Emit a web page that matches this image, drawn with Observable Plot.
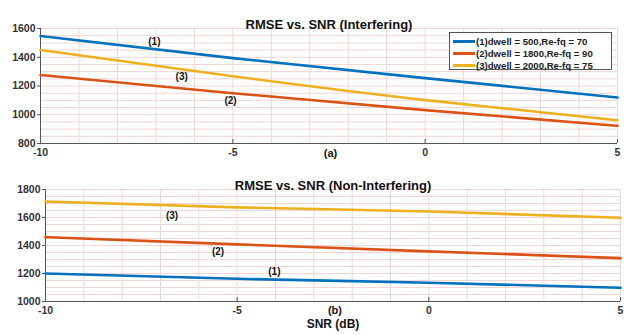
<!DOCTYPE html>
<html>
<head>
<meta charset="utf-8">
<script src="https://cdn.jsdelivr.net/npm/d3@7"></script>
<script src="https://cdn.jsdelivr.net/npm/@observablehq/plot@0.6"></script>
<style>
  html, body { margin: 0; padding: 0; background: #fff; }
  #wrap { position: relative; width: 624px; height: 335px; overflow: hidden; font-family: "Liberation Sans", Arial, sans-serif; }
  #wrap svg { position: absolute; left: 0; }
  #legend { position: absolute; left: 449px; top: 32px; width: 163px; height: 38px; border: 1px solid #555; background: #fff;
            font-weight: bold; font-size: 9.6px; color: #222; box-sizing: border-box; padding-top: 2px; }
  #legend .row { display: flex; align-items: center; height: 12px; white-space: nowrap; }
  #legend .sw { display: inline-block; width: 22px; height: 3px; margin: 0 1px 0 3px; }
</style>
</head>
<body>
<div id="wrap"></div>
<script>
// ---- data ----
const snr = [-10, -5, 0, 5];
const seriesNames = ["(1)dwell = 500,Re-fq = 70", "(2)dwell = 1800,Re-fq = 90", "(3)dwell = 2000,Re-fq = 75"];
const colors = ["#0072BD", "#D95319", "#EDB120"];
// Interfering (a)
const int1 = [1548, 1394, 1255, 1120];
const int2 = [1276, 1150, 1032, 923];
const int3 = [1450, 1268, 1102, 962];
// Non-interfering (b)
const non1 = [1200, 1162, 1134, 1098];
const non2 = [1460, 1408, 1358, 1310];
const non3 = [1714, 1672, 1643, 1598];
// curve labels
const labelsA = [{t: "(1)", x: -7.04, y: 1505}, {t: "(3)", x: -6.33, y: 1262}, {t: "(2)", x: -5.06, y: 1097}];
const labelsB = [{t: "(3)", x: -6.70, y: 1614}, {t: "(2)", x: -5.50, y: 1357}, {t: "(1)", x: -4.03, y: 1214}];
const xTicks = [-10, -5, 0, 5];
const yTicksA = [800, 1000, 1200, 1400, 1600];
const yTicksB = [1000, 1200, 1400, 1600, 1800];

function rows(vals, k) { return snr.map((x, i) => ({x, y: vals[i], s: k})); }

const font = "Liberation Sans, Arial, sans-serif";
const gridColor = "#f0d6d6";
const fmt = d => String(d);

function panel({series, yDomain, yTicks, labels, title, tag, width, height, mt, mb, ml, mr, extraBottom}) {
  const marks = [
    Plot.gridX(d3.range(-10, 6, 1), {stroke: gridColor, strokeOpacity: 1}),
    Plot.gridY(d3.range(yDomain[0], yDomain[1] + 1, 50), {stroke: gridColor, strokeOpacity: 1}),
    Plot.ruleX([-10], {stroke: "#555"}),
    Plot.ruleY([yDomain[0]], {stroke: "#555"}),
    Plot.tickX([-5, 0, 5], {x: d => d, stroke: "#555", insetTop: height - mt - mb - 4}),
    Plot.axisX(xTicks, {tickSize: 0, tickPadding: 5, tickFormat: fmt, fontSize: 10.5, fontWeight: "bold", fill: "#333", label: null}),
    Plot.axisY(yTicks, {tickSize: 3, tickPadding: 2, tickFormat: fmt, fontSize: 10.5, fontWeight: "bold", fill: "#333", stroke: "#555", label: null}),
    ...series.map((v, k) => Plot.line(rows(v, k), {x: "x", y: "y", stroke: colors[k], strokeWidth: 2.6, curve: "natural"})),
    Plot.text(labels, {x: "x", y: "y", text: "t", fontSize: 10, fontWeight: "bold", fill: "#111"}),
    Plot.text([title], {frameAnchor: "top", dy: -9, fontSize: 13, fontWeight: "bold", fill: "#111"}),
    Plot.text([tag.t], {x: () => tag.x, frameAnchor: "bottom", dy: tag.dy, fontSize: 11, fontWeight: "bold", fill: "#111"})
  ];
  if (extraBottom) marks.push(Plot.text([extraBottom.t], {x: () => extraBottom.x, frameAnchor: "bottom", dy: extraBottom.dy, fontSize: 12, fontWeight: "bold", fill: "#111"}));
  return Plot.plot({
    width, height, marginTop: mt, marginBottom: mb, marginLeft: ml, marginRight: mr,
    x: {domain: [-10, 5]},
    y: {domain: yDomain},
    style: {fontFamily: font, background: "transparent", overflow: "visible"},
    marks
  });
}

const wrap = document.getElementById("wrap");

const topPanel = panel({
  series: [int1, int2, int3], yDomain: [800, 1600], yTicks: yTicksA, labels: labelsA,
  title: "RMSE vs. SNR (Interfering)", tag: {t: "(a)", x: -2.46, dy: 13},
  width: 624, height: 165, mt: 28, mb: 22, ml: 40, mr: 7
});
topPanel.style.top = "0px";
wrap.appendChild(topPanel);

const botPanel = panel({
  series: [non1, non2, non3], yDomain: [1000, 1800], yTicks: yTicksB, labels: labelsB,
  title: "RMSE vs. SNR (Non-Interfering)", tag: {t: "(b)", x: -2.45, dy: 12},
  extraBottom: {t: "SNR (dB)", x: -2.5, dy: 26},
  width: 624, height: 170, mt: 24, mb: 34, ml: 45, mr: 4
});
botPanel.style.top = "165px";
wrap.appendChild(botPanel);

// legend
const leg = document.createElement("div");
leg.id = "legend";
seriesNames.forEach((n, k) => {
  const r = document.createElement("div");
  r.className = "row";
  const sw = document.createElement("span");
  sw.className = "sw";
  sw.style.background = colors[k];
  r.appendChild(sw);
  r.appendChild(document.createTextNode(n));
  leg.appendChild(r);
});
wrap.appendChild(leg);
</script>
</body>
</html>
